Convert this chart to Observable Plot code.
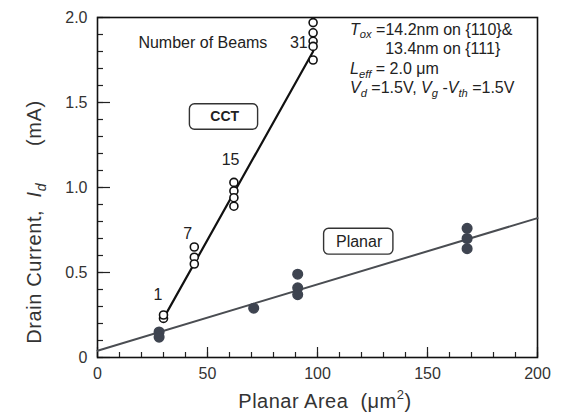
<!DOCTYPE html>
<html>
<head>
<meta charset="utf-8">
<script src="https://cdn.jsdelivr.net/npm/d3@7"></script>
<script src="https://cdn.jsdelivr.net/npm/@observablehq/plot@0.6"></script>
<style>
  html, body { margin: 0; padding: 0; background: #fff; }
  #chart svg { font-family: "Liberation Sans", Arial, sans-serif; }
</style>
</head>
<body>
<div id="chart"></div>
<script>
// ---- data ----
const cctArea    = [30, 30, 44, 44, 44, 62, 62, 62, 62, 98, 98, 98, 98, 98];
const cctCurrent = [0.23, 0.25, 0.65, 0.59, 0.55, 1.03, 0.98, 0.94, 0.89, 1.97, 1.91, 1.86, 1.83, 1.75];
const planarArea    = [28, 28, 71, 91, 91, 91, 168, 168, 168];
const planarCurrent = [0.15, 0.12, 0.29, 0.49, 0.41, 0.37, 0.76, 0.70, 0.64];
const cctFitArea = [30, 98];
const cctFitCurrent = [0.23, 1.80];
const planarFitArea = [0, 200];
const planarFitCurrent = [0.04, 0.82];
const beamCounts = ["1", "7", "15", "31"];
const beamArea = [27.5, 41, 60.5, 91.5];
const beamCurrent = [0.37, 0.73, 1.16, 1.85];
const xTickLabels = [0, 50, 100, 150, 200];
const yTickLabels = [0, 0.5, 1.0, 1.5, 2.0];
const xMinorTicks = d3.range(0, 201, 10);
const yMinorTicks = d3.range(0, 2.01, 0.1);

const W = 563, H = 417;
const mL = 97, mR = 26, mT = 17, mB = 60;
const innerW = W - mL - mR, innerH = H - mT - mB;
const FONT = "Liberation Sans, Arial, sans-serif";

const cct = cctArea.map((x, i) => ({x, y: cctCurrent[i]}));
const planar = planarArea.map((x, i) => ({x, y: planarCurrent[i]}));
const cctFit = cctFitArea.map((x, i) => ({x, y: cctFitCurrent[i]}));
const planarFit = planarFitArea.map((x, i) => ({x, y: planarFitCurrent[i]}));
const beams = beamCounts.map((t, i) => ({t, x: beamArea[i], y: beamCurrent[i]}));
const yFmt = d => d === 0 ? "0" : d.toFixed(1);

const chart = Plot.plot({
  width: W, height: H,
  marginLeft: mL, marginRight: mR, marginTop: mT, marginBottom: mB,
  style: {fontFamily: FONT, background: "#fff", color: "#222"},
  x: {domain: [0, 200], label: null},
  y: {domain: [0, 2.0], label: null},
  marks: [
    // tick labels only (ticks drawn inward below)
    Plot.axisX(xTickLabels, {tickSize: 0, tickPadding: 10, fontSize: 16, fill: "#333", tickFormat: d => String(d), label: null}),
    Plot.axisY(yTickLabels, {tickSize: 0, tickPadding: 10, fontSize: 16, fill: "#333", tickFormat: yFmt, label: null}),
    // inward minor/major ticks
    Plot.tickY(yMinorTicks, {y: d => d, stroke: "#222", strokeWidth: 1.2, insetRight: innerW - 6}),
    Plot.tickY(yTickLabels, {y: d => d, stroke: "#222", strokeWidth: 1.2, insetRight: innerW - 13}),
    Plot.tickX(xMinorTicks, {x: d => d, stroke: "#222", strokeWidth: 1.2, insetTop: innerH - 5}),
    Plot.tickX(xTickLabels, {x: d => d, stroke: "#222", strokeWidth: 1.2, insetTop: innerH - 10}),
    Plot.frame({stroke: "#111", strokeWidth: 1.6}),
    // fit lines
    Plot.line(planarFit, {x: "x", y: "y", stroke: "#4a4d52", strokeWidth: 2}),
    Plot.line(cctFit, {x: "x", y: "y", stroke: "#111", strokeWidth: 2.2}),
    // points
    Plot.dot(planar, {x: "x", y: "y", r: 4.8, fill: "#3e4450", stroke: "#3e4450"}),
    Plot.dot(cct, {x: "x", y: "y", r: 4, fill: "#fff", stroke: "#111", strokeWidth: 1.6}),
    // beam count labels
    Plot.text(beams, {x: "x", y: "y", text: "t", fontSize: 16, fill: "#222"}),
    Plot.text(["Number of Beams"], {x: 18.6, y: 1.85, text: d => d, textAnchor: "start", fontSize: 16, fill: "#222"}),
    // boxed labels
    Plot.rect([0], {x1: 42, x2: 73, y1: 1.34, y2: 1.49, rx: 5, fill: "#fff", stroke: "#333", strokeWidth: 1.4}),
    Plot.text(["CCT"], {x: 57.8, y: 1.415, text: d => d, fontSize: 14, fontWeight: "bold", fill: "#222", letterSpacing: "3px"}),
    Plot.rect([0], {x1: 103, x2: 134.5, y1: 0.605, y2: 0.757, rx: 5, fill: "#fff", stroke: "#333", strokeWidth: 1.4}),
    Plot.text(["Planar"], {x: 118.9, y: 0.681, text: d => d, fontSize: 16, fill: "#222", letterSpacing: "1px"})
  ]
});

document.getElementById("chart").appendChild(chart);

// rich text (italics / subscripts) placed through the plot's own scales
const sx = chart.scale("x"), sy = chart.scale("y");
const svg = d3.select(chart);
function rich(x, y, segs, size, opts = {}) {
  const t = svg.append("text")
    .attr("x", x).attr("y", y)
    .attr("font-size", size)
    .attr("fill", opts.fill || "#222")
    .attr("font-family", FONT)
    .attr("text-anchor", opts.anchor || "start")
    .attr("dominant-baseline", "middle")
    .style("white-space", "pre");
  if (opts.spacing) t.attr("letter-spacing", opts.spacing);
  if (opts.transform) t.attr("transform", opts.transform);
  for (const [s, style] of segs) {
    const ts = t.append("tspan").text(s);
    if (style && style.includes("i")) ts.attr("font-style", "italic");
    if (style && style.includes("sub")) ts.attr("font-size", size * 0.7).attr("dy", size * 0.3);
    if (style && style.includes("up")) ts.attr("dy", -size * 0.3);
  }
  return t;
}
const fs = 16;
rich(sx.apply(115), sy.apply(1.92), [["T", "i"], ["ox", "i sub"], [" =14.2nm on {110}&", "up"]], fs);
rich(sx.apply(131), sy.apply(1.805), [["13.4nm on {111}"]], fs);
rich(sx.apply(115), sy.apply(1.69), [["L", "i"], ["eff", "i sub"], [" = 2.0 μm", "up"]], fs);
rich(sx.apply(115), sy.apply(1.575), [["V", "i"], ["d", "i sub"], [" =1.5V, ", "up"], ["V", "i"], ["g", "i sub"], [" -", "up"], ["V", "i"], ["th", "i sub"], [" =1.5V", "up"]], fs);

// axis titles
const xt = svg.append("text")
  .attr("x", mL + innerW / 2 + 8).attr("y", 403)
  .attr("text-anchor", "middle").attr("dominant-baseline", "middle")
  .attr("font-size", 20).attr("fill", "#333").attr("letter-spacing", "0.5px")
  .attr("font-family", FONT)
  .style("white-space", "pre");
xt.append("tspan").text("Planar Area  (μm");
xt.append("tspan").text("2").attr("font-size", 13).attr("dy", -7);
xt.append("tspan").text(")").attr("dy", 7);

rich(0, 0, [["Drain Current,  "], ["I", "i"], ["d", "i sub"], ["      (mA)", "up"]], 20,
  {anchor: "middle", spacing: "0.6px", fill: "#333", transform: `translate(36, ${mT + 205}) rotate(-90)`});
</script>
</body>
</html>
